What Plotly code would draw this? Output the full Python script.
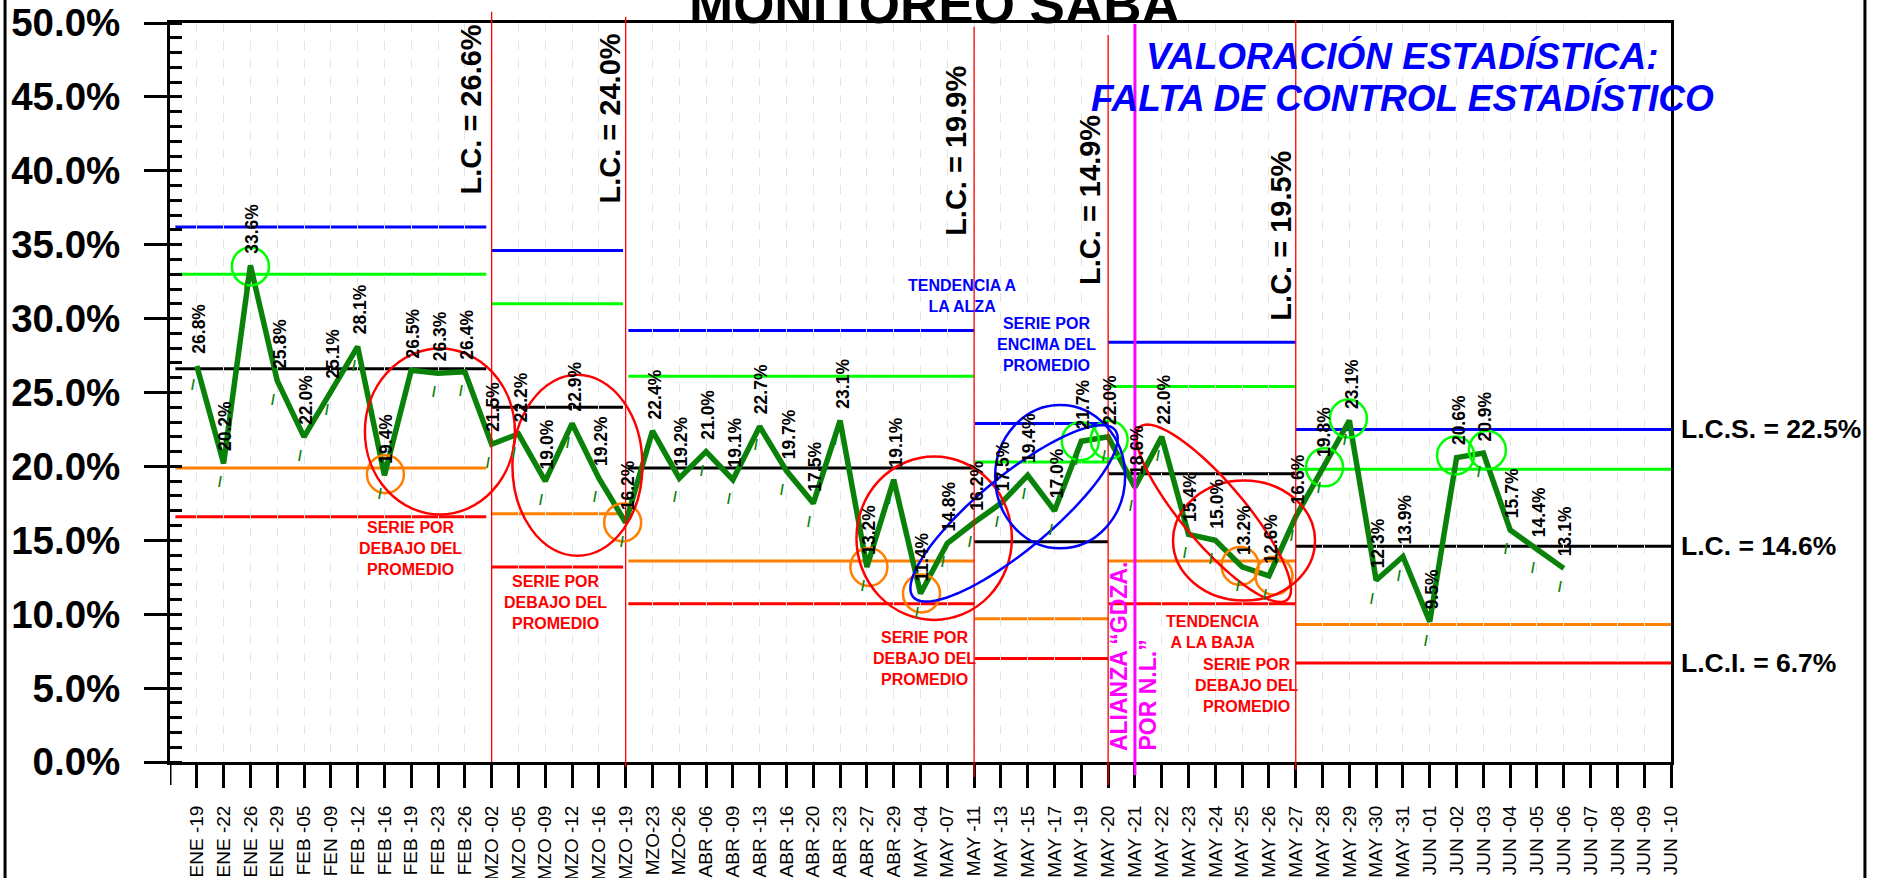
import math
import plotly.graph_objects as go

FONT = "Liberation Sans, Arial, sans-serif"

# ---------------------------------------------------------------- data
categories = [
    "ENE -19", "ENE -22", "ENE -26", "ENE -29", "FEB -05", "FEN -09", "FEB -12",
    "FEB -16", "FEB -19", "FEB -23", "FEB -26", "MZO -02", "MZO -05", "MZO -09",
    "MZO -12", "MZO -16", "MZO -19", "MZO-23", "MZO-26", "ABR -06", "ABR -09",
    "ABR -13", "ABR -16", "ABR -20", "ABR -23", "ABR -27", "ABR -29", "MAY -04",
    "MAY -07", "MAY -11", "MAY -13", "MAY -15", "MAY -17", "MAY -19", "MAY -20",
    "MAY -21", "MAY -22", "MAY -23", "MAY -24", "MAY -25", "MAY -26", "MAY -27",
    "MAY -28", "MAY -29", "MAY -30", "MAY -31", "JUN -01", "JUN -02", "JUN -03",
    "JUN -04", "JUN -05", "JUN -06", "JUN -07", "JUN -08", "JUN -09", "JUN -10",
]

values = [
    26.8, 20.2, 33.6, 25.8, 22.0, 25.1, 28.1, 19.4, 26.5, 26.3, 26.4,
    21.5, 22.2, 19.0, 22.9, 19.2, 16.2,
    22.4, 19.2, 21.0, 19.1, 22.7, 19.7, 17.5, 23.1, 13.2, 19.1, 11.4, 14.8,
    16.2, 17.5, 19.4, 17.0, 21.7,
    22.0, 18.6, 22.0, 15.4, 15.0, 13.2, 12.6,
    16.6, 19.8, 23.1, 12.3, 13.9, 9.5, 20.6, 20.9, 15.7, 14.4, 13.1,
]

# control limits for each evaluation period (x extent in category units)
period_start = [-0.8, 11.0, 16.1, 29.0, 34.0, 41.0]
period_end = [10.8, 15.9, 29.0, 34.0, 41.0, 55.0]
lcs = [36.2, 34.6, 29.2, 22.9, 28.4, 22.5]
upper_band = [33.0, 31.0, 26.1, 20.3, 25.4, 19.8]
lc = [26.6, 24.0, 19.9, 14.9, 19.5, 14.6]
lower_band = [19.9, 16.8, 13.6, 9.7, 13.6, 9.3]
lci = [16.6, 13.2, 10.7, 7.0, 10.7, 6.7]

# period boundaries and the alliance marker (category index)
separators = [11, 16, 29, 34, 41]
alliance_index = 35

y_ticks = [0, 5, 10, 15, 20, 25, 30, 35, 40, 45, 50]
y_tick_text = [f"{v:.1f}%" for v in y_ticks]

# ---------------------------------------------------------------- styles
GREEN_DATA = "#0a820a"
LIME = "#00ff00"
BLUE = "#0000ff"
ORANGE = "#ff8000"
RED = "#ff0000"
MAGENTA = "#ff00ff"


def font(size, color="black", weight="bold", style="normal"):
    return dict(family=FONT, size=size, color=color, weight=weight, style=style)


fig = go.Figure()

fig.add_trace(go.Scatter(
    x=categories[:len(values)], y=values, mode="lines",
    line=dict(color=GREEN_DATA, width=5.5),
    hoverinfo="skip", showlegend=False,
))

shapes = []
annotations = []

# horizontal control lines
for series, color in ((lcs, BLUE), (upper_band, LIME), (lc, "black"),
                      (lower_band, ORANGE), (lci, RED)):
    for x0, x1, v in zip(period_start, period_end, series):
        shapes.append(dict(type="line", xref="x", yref="y", x0=x0, x1=x1, y0=v, y1=v,
                           line=dict(color=color, width=3), layer="below"))

# period separators (paper y so they can run past the frame)
sep_top = [1.0153, 1.0085, 0.9950, 0.9838, 1.0041]
sep_bottom = [0.0, -0.0068, -0.0203, -0.0311, -0.0108]
for s, t, b in zip(separators, sep_top, sep_bottom):
    shapes.append(dict(type="line", xref="x", yref="paper", x0=s, x1=s, y0=b, y1=t,
                       line=dict(color=RED, width=1.3), layer="above"))
shapes.append(dict(type="line", xref="x", yref="paper", x0=alliance_index, x1=alliance_index,
                   y0=-0.0176, y1=0.9986, line=dict(color=MAGENTA, width=3), layer="above"))

# extra tick under the vertical axis
shapes.append(dict(type="line", xref="x", yref="paper", x0=-1, x1=-1, y0=-0.031, y1=0,
                   line=dict(color="black", width=3)))

# outer frame sides
for xp in (-0.1099, 1.1292):
    shapes.append(dict(type="line", xref="paper", yref="paper", x0=xp, x1=xp, y0=-0.2, y1=1.1,
                       line=dict(color="black", width=3)))

# small highlight circles around single points: (index, colour, dx, dy)
point_marks = [
    (2, LIME, 0, -1), (7, ORANGE, 1, 1), (16, ORANGE, -3, 0), (25, ORANGE, 2, 0),
    (27, ORANGE, 1, 0), (33, LIME, -1, 0), (34, LIME, 1, -3),
    (39, ORANGE, -2, 1), (40, ORANGE, 5, 0),
    (42, LIME, 2, 2), (43, LIME, -1, 2), (47, LIME, -1, 2), (48, LIME, 4, 3),
]
for idx, color, dx, dy in point_marks:
    shapes.append(dict(type="circle", xref="x", yref="y", xsizemode="pixel", ysizemode="pixel",
                       xanchor=idx, yanchor=values[idx],
                       x0=dx - 18.5, x1=dx + 18.5, y0=dy - 19, y1=dy + 19,
                       line=dict(color=color, width=2.5), layer="above"))

# larger ellipses grouping runs of points: (cx, cy, rx, ry, colour)
group_marks = [
    (9.07, 22.36, 75, 83, RED),
    (14.2, 20.07, 65, 90.5, RED),
    (27.51, 15.14, 77.7, 81.7, RED),
    (32.21, 19.31, 65, 71.7, BLUE),
    (39.07, 14.98, 71, 60, RED),
]
for cx, cy, rx, ry, color in group_marks:
    shapes.append(dict(type="circle", xref="x", yref="y", xsizemode="pixel", ysizemode="pixel",
                       xanchor=cx, yanchor=cy, x0=-rx, x1=rx, y0=-ry, y1=ry,
                       line=dict(color=color, width=2.5), layer="above"))


def ellipse_path(a, b, theta_deg, n=90):
    t = math.radians(theta_deg)
    pts = []
    for k in range(n):
        phi = 2 * math.pi * k / n
        px = a * math.cos(phi) * math.cos(t) - b * math.sin(phi) * math.sin(t)
        py = a * math.cos(phi) * math.sin(t) + b * math.sin(phi) * math.cos(t)
        pts.append(f"{px:.2f},{py:.2f}")
    return "M " + " L ".join(pts) + " Z"


# tilted ellipses marking the trends: (cx, cy, a, b, angle, colour)
trend_marks = [
    (30.49, 16.82, 131, 37, 39.6, BLUE),
    (37.94, 16.83, 113.5, 31, -49.6, RED),
]
for cx, cy, a, b, ang, color in trend_marks:
    shapes.append(dict(type="path", xref="x", yref="y", xsizemode="pixel", ysizemode="pixel",
                       xanchor=cx, yanchor=cy, path=ellipse_path(a, b, ang),
                       line=dict(color=color, width=2.5), layer="above"))

# value labels and the small tick marks under each point
for i, v in enumerate(values):
    annotations.append(dict(x=i, y=v, xref="x", yref="y", text=f"{v:.1f}%", textangle=-90,
                            showarrow=False, xanchor="center", yanchor="bottom",
                            xshift=2, yshift=10, font=font(17.5)))
    annotations.append(dict(x=i, y=v, xref="x", yref="y", text="/", showarrow=False,
                            xanchor="center", yanchor="middle", xshift=-4, yshift=-19,
                            font=font(14, GREEN_DATA)))

# central line labels for each earlier period
lc_label_bottom = [38.24, 37.63, 35.47, 32.15, 29.71]
lc_label_shift = [-3, 2, 0, 0, 3]
for s, v, yb, sh in zip(separators, lc[:5], lc_label_bottom, lc_label_shift):
    annotations.append(dict(x=s, y=yb, xref="x", yref="y", text=f"L.C. = {v:.1f}%",
                            textangle=-90, showarrow=False, xanchor="right", yanchor="bottom",
                            xshift=sh, font=font(29)))

# limits of the current period, right of the frame
for text, v in ((f"L.C.S. = {lcs[-1]:.1f}%", lcs[-1]),
                (f"L.C. = {lc[-1]:.1f}%", lc[-1]),
                (f"L.C.I. = {lci[-1]:.1f}%", lci[-1])):
    annotations.append(dict(x=55, y=v, xref="x", yref="y", text=text, showarrow=False,
                            xanchor="left", yanchor="middle", xshift=8, font=font(26.5)))

# notes
notes = [
    (28.55, 31.51, "TENDENCIA A<br>LA ALZA", BLUE),
    (31.69, 28.26, "SERIE POR<br>ENCIMA DEL<br>PROMEDIO", BLUE),
    (7.96, 14.42, "SERIE POR<br>DEBAJO DEL<br>PROMEDIO", RED),
    (13.37, 10.76, "SERIE POR<br>DEBAJO DEL<br>PROMEDIO", RED),
    (27.15, 6.97, "SERIE POR<br>DEBAJO DEL<br>PROMEDIO", RED),
    (37.92, 8.82, "TENDENCIA<br>A LA BAJA", RED),
    (39.15, 5.21, "SERIE POR<br>DEBAJO DEL<br>PROMEDIO", RED),
]
for x, y, text, color in notes:
    annotations.append(dict(x=x, y=y, xref="x", yref="y", text=text, showarrow=False,
                            xanchor="center", yanchor="middle", align="center",
                            font=font(16, color)))

annotations.append(dict(x=44.97, y=47.75, xref="x", yref="y", text="VALORACIÓN ESTADÍSTICA:",
                        showarrow=False, xanchor="center", yanchor="middle",
                        font=font(37, BLUE, style="italic")))
annotations.append(dict(x=44.97, y=44.88, xref="x", yref="y", text="FALTA DE CONTROL ESTADÍSTICO",
                        showarrow=False, xanchor="center", yanchor="middle",
                        font=font(37, BLUE, style="italic")))

annotations.append(dict(x=34.41, y=0.61, xref="x", yref="y", text="ALIANZA “GDZA.",
                        textangle=-90, showarrow=False, xanchor="center", yanchor="bottom",
                        font=font(23, MAGENTA)))
annotations.append(dict(x=35.49, y=0.61, xref="x", yref="y", text="POR N.L.”",
                        textangle=-90, showarrow=False, xanchor="center", yanchor="bottom",
                        font=font(23, MAGENTA)))

annotations.append(dict(x=0.509, y=1, xref="paper", yref="paper", text="MONITOREO SABA",
                        showarrow=False, xanchor="center", yanchor="bottom", yshift=-13,
                        font=font(53)))

fig.update_layout(
    width=1877, height=878,
    margin=dict(l=170, r=206, t=23, b=116, autoexpand=False),
    paper_bgcolor="white", plot_bgcolor="white",
    showlegend=False,
    shapes=shapes, annotations=annotations,
    font=dict(family=FONT, color="black"),
)

fig.update_xaxes(
    type="category", categoryorder="array", categoryarray=categories,
    range=[-1, 55], tickangle=-90,
    tickfont=dict(family=FONT, size=19, color="black"),
    ticks="outside", ticklen=23, tickwidth=3, tickcolor="black",
    ticklabelstandoff=10,
    showline=True, linecolor="black", linewidth=3, mirror=True,
    showgrid=True, gridcolor="#e4e4e4", gridwidth=1, griddash="dash",
    zeroline=False, automargin=False, fixedrange=True,
)

fig.update_yaxes(
    range=[0, 50], tickmode="array", tickvals=y_ticks, ticktext=y_tick_text,
    tickfont=font(38.5),
    ticks="outside", ticklen=23, tickwidth=3, tickcolor="black",
    ticklabelstandoff=16,
    minor=dict(dtick=1, ticks="inside", ticklen=12, tickwidth=3, tickcolor="black",
               showgrid=False),
    showline=True, linecolor="black", linewidth=3, mirror=True,
    showgrid=False, zeroline=False, automargin=False, fixedrange=True,
)

fig.write_html("out.html", config={"displayModeBar": False})
